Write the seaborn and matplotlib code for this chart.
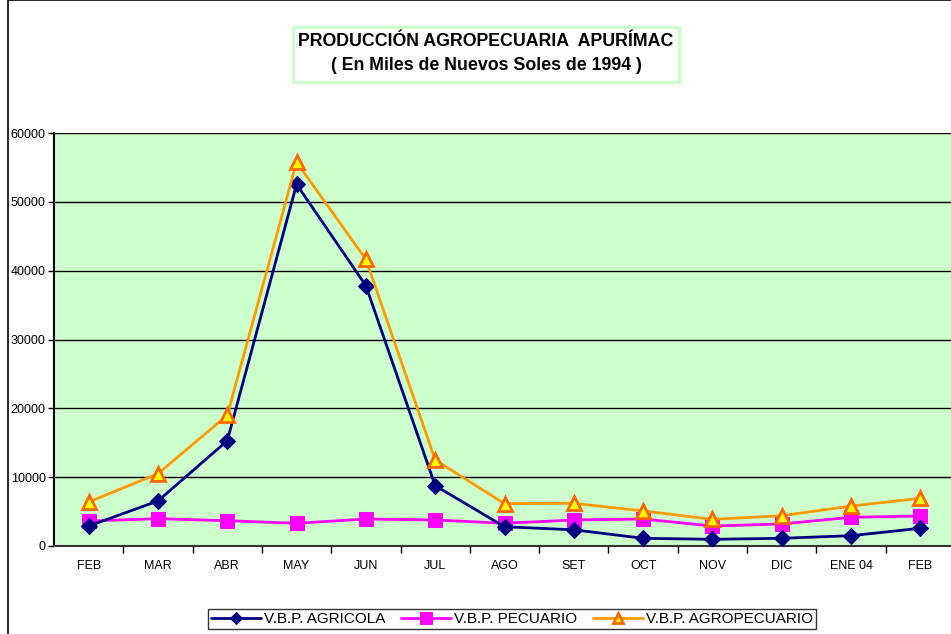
import matplotlib
matplotlib.use("Agg")
import matplotlib.pyplot as plt
import seaborn as sns
from matplotlib.patches import Rectangle

sns.set_theme(style="white")
plt.rcParams["font.family"] = ["Liberation Sans", "DejaVu Sans"]
plt.rcParams["text.color"] = "black"
plt.rcParams["xtick.color"] = "black"
plt.rcParams["ytick.color"] = "black"

months = ["FEB", "MAR", "ABR", "MAY", "JUN", "JUL", "AGO", "SET", "OCT",
          "NOV", "DIC", "ENE 04", "FEB"]
agricola = [2900, 6540, 15300, 52550, 37820, 8760, 2800, 2350, 1120,
            970, 1120, 1500, 2570]
pecuario = [3630, 3970, 3680, 3300, 3920, 3780, 3300, 3780, 3920,
            2900, 3200, 4170, 4360]
agropecuario = [6400, 10500, 19000, 55750, 41650, 12500, 6150, 6200, 5100,
                3870, 4400, 5800, 6930]
yticks = [0, 10000, 20000, 30000, 40000, 50000, 60000]

pos = list(range(len(months)))

fig = plt.figure(figsize=(9.51, 6.34), dpi=100)
fig.patch.set_facecolor("white")
fig.patches.append(Rectangle((8 / 951, -0.1), 1.2, 1.1, transform=fig.transFigure,
                             fill=False, edgecolor="black", linewidth=1.2))

ax = fig.add_axes([54 / 951, 1 - 546 / 634, (955 - 54) / 951, (546 - 133) / 634])
ax.set_facecolor("#CCFFCC")

sns.lineplot(x=pos, y=agricola, ax=ax, color="#000080", linewidth=2,
             marker="D", markersize=8, markeredgecolor="#000080",
             label="V.B.P. AGRICOLA", zorder=4)
sns.lineplot(x=pos, y=pecuario, ax=ax, color="#FF00FF", linewidth=2,
             marker="s", markersize=10, markeredgecolor="#FF00FF",
             label="V.B.P. PECUARIO", zorder=3)
sns.lineplot(x=pos, y=agropecuario, ax=ax, color="#FF9900", linewidth=2,
             marker="^", markersize=9.5, markerfacecolor="#FFFF00",
             markeredgecolor="#FF6600", markeredgewidth=2,
             label="V.B.P. AGROPECUARIO", zorder=5)

ax.set_xlim(-0.5, len(months) - 0.5)
ax.set_ylim(0, 60000)
ax.set_yticks(yticks)
ax.set_yticklabels([str(v) for v in yticks], fontsize=9)
ax.yaxis.grid(True, color="black", linewidth=1)
ax.xaxis.grid(False)

ax.set_xticks([p + 0.5 for p in pos[:-1]])
ax.set_xticklabels([])
ax.set_xticks(pos, minor=True)
ax.set_xticklabels(months, minor=True, fontsize=9)
ax.tick_params(axis="x", which="major", length=5, width=1, color="black",
               direction="out", bottom=True)
ax.tick_params(axis="x", which="minor", length=0, pad=10)
ax.tick_params(axis="y", length=4, width=1, color="black", direction="out",
               left=True, pad=2)

for side in ["top", "right"]:
    ax.spines[side].set_visible(False)
ax.spines["left"].set_color("black")
ax.spines["left"].set_linewidth(1.5)
ax.spines["bottom"].set_color("#333333")
ax.spines["bottom"].set_linewidth(1.5)

fig.text(486 / 951, 1 - 42 / 634, "PRODUCCIÓN AGROPECUARIA  APURÍMAC",
         ha="center", va="center", fontsize=12.8, fontweight="bold")
fig.text(486 / 951, 1 - 66 / 634, "( En Miles de Nuevos Soles de 1994 )",
         ha="center", va="center", fontsize=12.8, fontweight="bold")
fig.patches.append(Rectangle((293 / 951, 1 - 82 / 634), (679 - 293) / 951,
                             (82 - 27) / 634, transform=fig.transFigure,
                             fill=False, edgecolor="#CCFFCC", linewidth=2.5))

leg = ax.legend(loc="center", bbox_to_anchor=(512 / 951, 1 - 619 / 634),
                bbox_transform=fig.transFigure, ncol=3, fontsize=11,
                frameon=True, fancybox=False, edgecolor="black",
                handlelength=3.3, handletextpad=0.2, columnspacing=1.0,
                borderpad=0.2, markerscale=0.8)
leg.get_frame().set_linewidth(1)

fig.savefig("out.png", dpi=100)
